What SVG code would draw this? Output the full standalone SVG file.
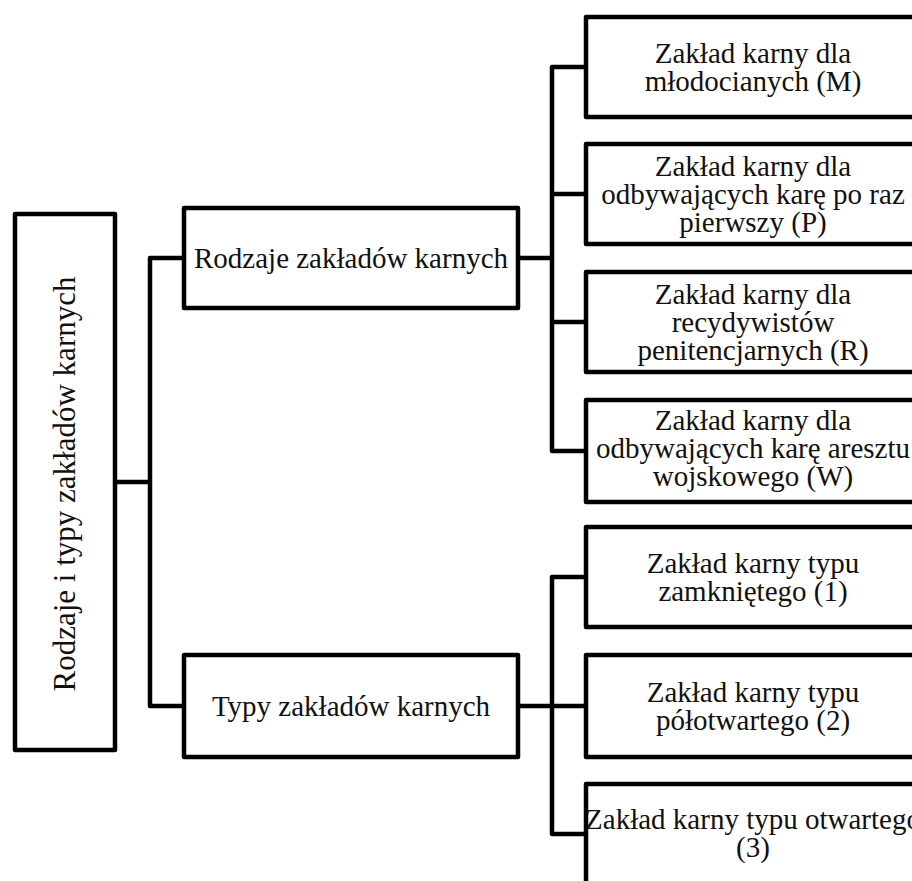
<svg xmlns="http://www.w3.org/2000/svg" width="912" height="881" viewBox="0 0 912 881">
  <style>
    .box { fill: #ffffff; stroke: #000000; stroke-width: 4.5; stroke-linejoin: round; }
    .wire { fill: none; stroke: #000000; stroke-width: 4.5; stroke-linejoin: round; }
    .label { font-family: 'Liberation Serif', 'DejaVu Serif', serif; font-size: 29px; fill: #111111; text-anchor: middle; }
  </style>
  <rect x="0" y="0" width="912" height="881" fill="#ffffff"/>

  <!-- connectors -->
  <g id="connectors">
    <path class="wire" d="M115 482 H150 M184 258 H150 V706 H184"/>
    <path class="wire" d="M518 258 H552 M586 67 H552 V451 H586 M552 194 H586 M552 322 H586"/>
    <path class="wire" d="M518 706 H552 M586 577 H552 V834 H586 M552 706 H586"/>
  </g>

  <!-- root -->
  <g id="root">
    <rect class="box" x="15" y="214" width="100" height="536"/>
    <text class="label" font-family="Liberation Serif, DejaVu Serif, serif" x="75" y="484" transform="rotate(-90 75 484)" style="font-size:31px">Rodzaje i typy zakładów karnych</text>
  </g>

  <!-- second level -->
  <g id="rodzaje">
    <rect class="box" x="184" y="208" width="334" height="100"/>
    <text class="label" x="351" y="268">Rodzaje zakładów karnych</text>
  </g>
  <g id="typy">
    <rect class="box" x="184" y="655" width="334" height="102"/>
    <text class="label" x="351" y="716">Typy zakładów karnych</text>
  </g>

  <!-- kinds -->
  <g id="rodzaj-m">
    <rect class="box" x="586" y="17" width="334" height="100"/>
    <text class="label" x="753" y="63">Zakład karny dla</text>
    <text class="label" x="753" y="91">młodocianych (M)</text>
  </g>
  <g id="rodzaj-p">
    <rect class="box" x="586" y="144" width="334" height="100"/>
    <text class="label" x="753" y="176">Zakład karny dla</text>
    <text class="label" x="753" y="204">odbywających karę po raz</text>
    <text class="label" x="753" y="232">pierwszy (P)</text>
  </g>
  <g id="rodzaj-r">
    <rect class="box" x="586" y="272" width="334" height="100"/>
    <text class="label" x="753" y="304">Zakład karny dla</text>
    <text class="label" x="753" y="332">recydywistów</text>
    <text class="label" x="753" y="360">penitencjarnych (R)</text>
  </g>
  <g id="rodzaj-w">
    <rect class="box" x="586" y="400" width="334" height="102"/>
    <text class="label" x="753" y="430">Zakład karny dla</text>
    <text class="label" x="753" y="458">odbywających karę aresztu</text>
    <text class="label" x="753" y="486">wojskowego (W)</text>
  </g>

  <!-- types -->
  <g id="typ-1">
    <rect class="box" x="586" y="527" width="334" height="100"/>
    <text class="label" x="753" y="573">Zakład karny typu</text>
    <text class="label" x="753" y="601">zamkniętego (1)</text>
  </g>
  <g id="typ-2">
    <rect class="box" x="586" y="655" width="334" height="102"/>
    <text class="label" x="753" y="702">Zakład karny typu</text>
    <text class="label" x="753" y="730">półotwartego (2)</text>
  </g>
  <g id="typ-3">
    <rect class="box" x="586" y="784" width="334" height="100"/>
    <text class="label" x="753" y="829">Zakład karny typu otwartego</text>
    <text class="label" x="753" y="857">(3)</text>
  </g>
</svg>
